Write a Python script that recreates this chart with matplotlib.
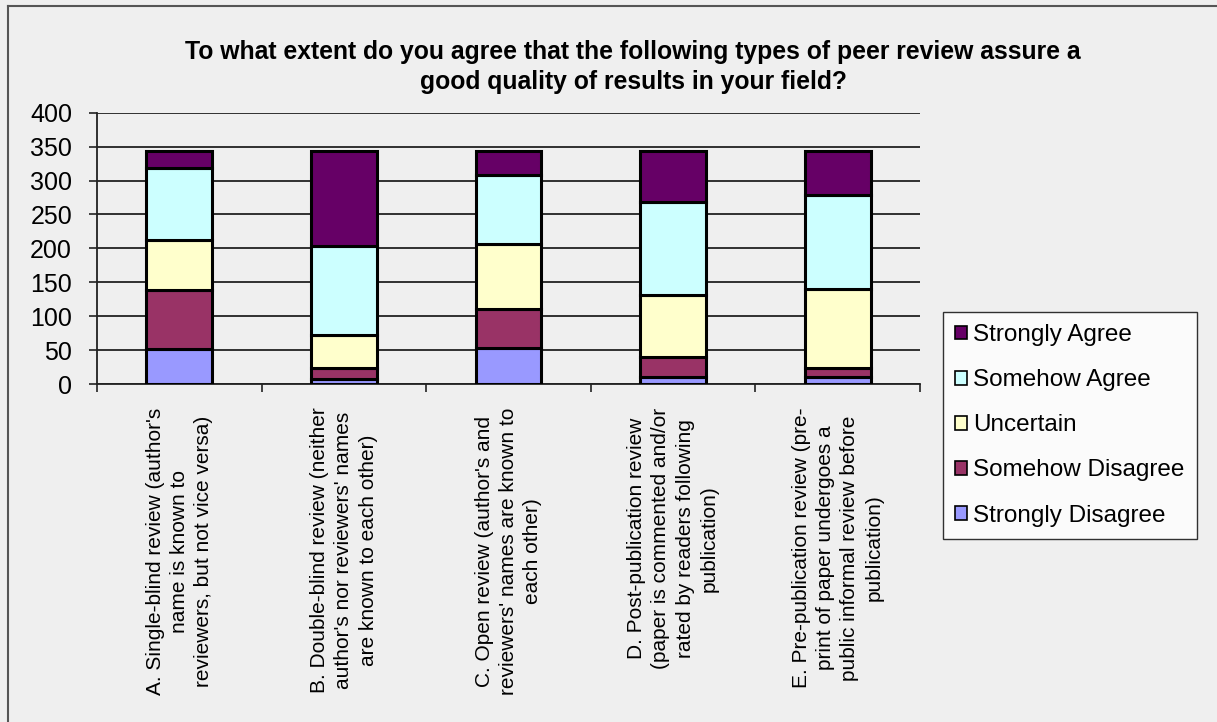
import matplotlib
matplotlib.use("Agg")
import matplotlib.pyplot as plt
from matplotlib.patches import Patch
from matplotlib.lines import Line2D
import numpy as np

plt.rcParams['font.family'] = ['Liberation Sans', 'DejaVu Sans']

categories = [
    "A. Single-blind review (author's\nname is known to\nreviewers, but not vice versa)",
    "B. Double-blind review (neither\nauthor's nor reviewers' names\nare known to each other)",
    "C. Open review (author's and\nreviewers' names are known to\neach other)",
    "D. Post-publication review\n(paper is commented and/or\nrated by readers following\npublication)",
    "E. Pre-publication review (pre-\nprint of paper undergoes a\npublic informal review before\npublication)",
]
series_names = ["Strongly Disagree", "Somehow Disagree", "Uncertain", "Somehow Agree", "Strongly Agree"]
strongly_disagree = [52, 8, 53, 10, 11]
somehow_disagree = [86, 16, 57, 30, 12]
uncertain = [74, 48, 97, 91, 117]
somehow_agree = [106, 131, 101, 137, 138]
strongly_agree = [26, 141, 36, 76, 66]
series_values = [strongly_disagree, somehow_disagree, uncertain, somehow_agree, strongly_agree]
colors = ["#9999FF", "#993366", "#FFFFCC", "#CCFFFF", "#660066"]
yticks = [0, 50, 100, 150, 200, 250, 300, 350, 400]

W, H = 1217, 722
fig = plt.figure(figsize=(W / 100, H / 100), dpi=100, facecolor="#EFEFEF")
ax = fig.add_axes([97 / W, 1 - 384 / H, (920 - 97) / W, (384 - 112.7) / H])
ax.set_facecolor("#EFEFEF")

x = np.arange(len(categories))
bottom = np.zeros(len(categories))
for name, vals, c in zip(series_names, series_values, colors):
    ax.bar(x, vals, width=0.4, bottom=bottom, color=c, edgecolor="black",
           linewidth=2.2, label=name, zorder=3)
    bottom += np.array(vals)

ax.set_ylim(0, 400)
ax.set_xlim(-0.5, len(categories) - 0.5)
ax.set_yticks(yticks)
ax.set_yticklabels([str(v) for v in yticks], fontsize=18)
ax.yaxis.grid(True, color="#222222", linewidth=1.3, zorder=0)
ax.set_axisbelow(True)
ax.tick_params(axis='y', length=6, width=1.2, pad=12, color="#222222")

ax.set_xticks(x)
ax.set_xticklabels(categories, rotation=90, fontsize=15, ha="center", va="top",
                   multialignment="center", linespacing=1.35)
ax.tick_params(axis='x', length=0, pad=17)
ax.set_xticks(np.arange(len(categories) + 1) - 0.5, minor=True)
ax.tick_params(axis='x', which='minor', length=6, width=1.2, color="#222222")

for s in ["top", "right"]:
    ax.spines[s].set_visible(False)
for s in ["left", "bottom"]:
    ax.spines[s].set_color("#222222")
    ax.spines[s].set_linewidth(1.3)

fig.text(633 / W, 1 - 67 / H,
         "To what extent do you agree that the following types of peer review assure a\ngood quality of results in your field?",
         ha="center", va="center", fontsize=17.8, fontweight="bold", linespacing=1.3)

handles = [Patch(facecolor=c, edgecolor="black", linewidth=1.2) for c in colors][::-1]
leg = fig.legend(handles, series_names[::-1], loc="upper left",
                 bbox_to_anchor=(943 / W, 1 - 312 / H), fontsize=17.5,
                 frameon=True, fancybox=False, edgecolor="black", facecolor="white",
                 handlelength=0.5, handleheight=0.5, handletextpad=0.25,
                 labelspacing=0.95, borderpad=0.5, borderaxespad=0)
leg.get_frame().set_linewidth(1.0)

fig.add_artist(Line2D([8 / W, 8 / W], [0, 1 - 6 / H], color="#555555", linewidth=1.5))
fig.add_artist(Line2D([8 / W, 1], [1 - 6 / H, 1 - 6 / H], color="#555555", linewidth=1.5))

fig.savefig("out.png", dpi=100, facecolor=fig.get_facecolor())
